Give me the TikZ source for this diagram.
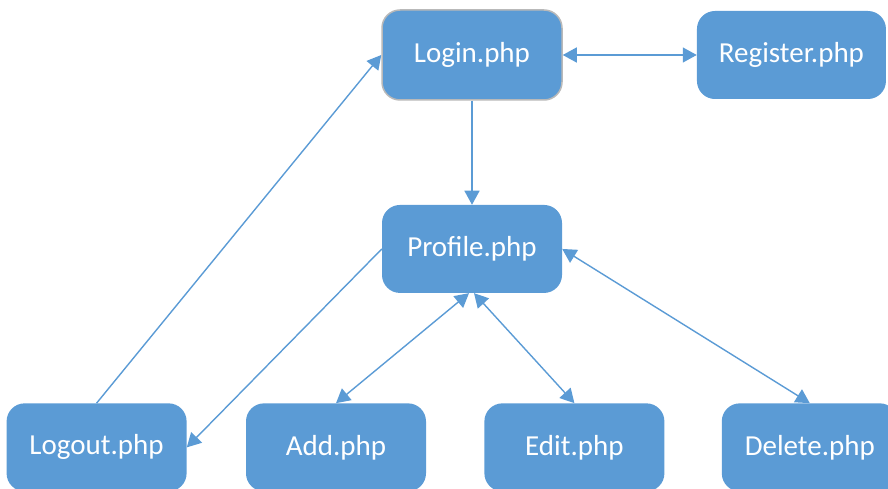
\documentclass[tikz,border=0pt]{standalone}
\usepackage{fontspec}
\setmainfont{Carlito}
\usetikzlibrary{arrows.meta,positioning}
\definecolor{pageblue}{HTML}{5B9BD5}
\tikzset{pagetip/.tip={Triangle[length=14pt,width=15pt]}}

\begin{document}
\begin{tikzpicture}[
  every node/.style={font=\fontsize{29}{32}\selectfont},
  page/.style={fill=pageblue,text=white,rounded corners=18pt,
    minimum width=180pt,minimum height=88pt,inner sep=2pt},
  link/.style={draw=pageblue,line width=1.4pt}]
\useasboundingbox (0,0) rectangle (888pt,-489pt);
\node[page,draw=gray!55,line width=1.5pt,minimum height=90pt] (login) at (472pt,-55pt) {Login.php};
\node[page,minimum width=189pt,right=134pt of login] (register) {Register.php};
\node[page,below=104pt of login] (profile) {Profile.php};
\node[page,below=110pt of profile,xshift=-136pt] (add) {Add.php};
\node[page,right=58pt of add] (edit) {Edit.php};
\node[page,left=59pt of add] (logout) {Logout.php};
\node[page,minimum width=176pt,right=57pt of edit] (delete) {Delete.php};
\draw[link,pagetip-pagetip] (login.east) -- (register.west);
\draw[link,-pagetip] (login) -- (profile);
\draw[link,-pagetip] (logout.north) -- (login.west);
\draw[link,-pagetip] (profile.west) -- (logout.east);
\draw[link,pagetip-pagetip] ([xshift=-3pt]profile.south) -- (add.north);
\draw[link,pagetip-pagetip] ([xshift=2pt]profile.south) -- (edit.north);
\draw[link,pagetip-pagetip] (profile.east) -- (delete.north);
\end{tikzpicture}
\end{document}
